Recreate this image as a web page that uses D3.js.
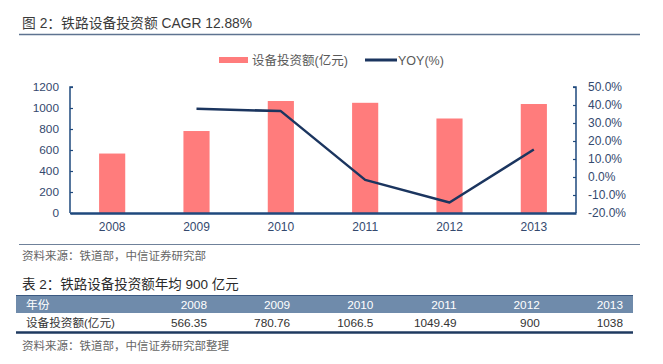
<!DOCTYPE html>
<html><head><meta charset="utf-8">
<script src="https://cdn.jsdelivr.net/npm/d3@7"></script>
<style>
html,body{margin:0;padding:0;background:#fff;}
svg{display:block;font-family:"Liberation Sans",Arial,"Noto Sans CJK SC",sans-serif;}
</style></head>
<body>
<script>
const years = ["2008","2009","2010","2011","2012","2013"];
const investment = [566.35, 780.76, 1066.5, 1049.49, 900, 1038];
const yoyYears = ["2009","2010","2011","2012","2013"];
const yoy = [37.9, 36.6, -1.6, -14.2, 15.3];
const leftTicks = [0,200,400,600,800,1000,1200];
const rightTicks = [-20,-10,0,10,20,30,40,50];
const tableValues = ["566.35","780.76","1066.5","1049.49","900","1038"];

(function(){
const W = 663, H = 364;
const svg = d3.select("body").append("svg").attr("width", W).attr("height", H);
const axisColor = "#1f497d", labelColor = "#34496e";

// Title
svg.append("text").attr("x", 22).attr("y", 28).attr("font-size", 13.8).attr("fill", "#3a3a3a")
  .text("图 2：铁路设备投资额 CAGR 12.88%");
svg.append("line").attr("x1", 19).attr("x2", 640).attr("y1", 34.5).attr("y2", 34.5)
  .attr("stroke", "#5e7390").attr("stroke-width", 1.5);

// Scales
const pL = 70, pR = 576, pT = 87, pB = 213;
const x = d3.scaleBand().domain(years).range([pL, pR]).paddingInner(0.69).paddingOuter(0.345);
const yL = d3.scaleLinear().domain([0, 1200]).range([pB, pT]);
const yR = d3.scaleLinear().domain([-20, 50]).range([pB, pT]);

// Bars
svg.append("g").selectAll("rect").data(investment).join("rect")
  .attr("x", (d, i) => x(years[i])).attr("width", x.bandwidth())
  .attr("y", d => yL(d)).attr("height", d => yL(0) - yL(d)).attr("fill", "#ff7c7c");

// Line
const line = d3.line().x((d, i) => x(yoyYears[i]) + x.bandwidth() / 2).y(d => yR(d));
svg.append("path").datum(yoy).attr("d", line).attr("fill", "none")
  .attr("stroke", "#1b355f").attr("stroke-width", 2.5).attr("stroke-linejoin", "round");

// Left axis
const gL = svg.append("g").attr("transform", `translate(${pL},0)`)
  .call(d3.axisLeft(yL).tickValues(leftTicks).tickSize(-3).tickPadding(11).tickFormat(d3.format("d")));
gL.select(".domain").attr("stroke", axisColor).attr("stroke-width", 1.5).attr("d", `M3,${pT}H0V${pB}`);
gL.selectAll(".tick line").attr("stroke", axisColor).attr("stroke-width", 1.2);
gL.selectAll("text").attr("fill", labelColor).attr("font-size", 11.8).attr("font-family", "Liberation Sans, Arial");

// Right axis
const gR = svg.append("g").attr("transform", `translate(${pR},0)`)
  .call(d3.axisRight(yR).tickValues(rightTicks).tickSize(-3).tickPadding(12).tickFormat(d => d.toFixed(1) + "%"));
gR.select(".domain").attr("stroke", axisColor).attr("stroke-width", 1.5).attr("d", `M-3,${pT}H0V${pB}`);
gR.selectAll(".tick line").attr("stroke", axisColor).attr("stroke-width", 1.2);
gR.selectAll("text").attr("fill", labelColor).attr("font-size", 12).attr("font-family", "Liberation Sans, Arial");

// Bottom axis
const gB = svg.append("g").attr("transform", `translate(0,${pB})`)
  .call(d3.axisBottom(x).tickSize(0).tickPadding(9));
gB.select(".domain").attr("stroke", axisColor).attr("stroke-width", 2.5);
gB.selectAll("text").attr("fill", labelColor).attr("font-size", 12).attr("font-family", "Liberation Sans, Arial");

// Legend
const lg = svg.append("g");
lg.append("rect").attr("x", 219).attr("y", 57).attr("width", 29).attr("height", 6).attr("fill", "#ff7c7c");
lg.append("text").attr("x", 252).attr("y", 64.5).attr("font-size", 12.5).attr("fill", "#595959").text("设备投资额(亿元)");
lg.append("line").attr("x1", 365).attr("x2", 397).attr("y1", 60).attr("y2", 60).attr("stroke", "#1b355f").attr("stroke-width", 3);
lg.append("text").attr("x", 398).attr("y", 64.5).attr("font-size", 12.5).attr("fill", "#595959").text("YOY(%)");

// Separator and source
svg.append("line").attr("x1", 19).attr("x2", 640).attr("y1", 244.5).attr("y2", 244.5)
  .attr("stroke", "#6f819a").attr("stroke-width", 1);
svg.append("text").attr("x", 22).attr("y", 259.5).attr("font-size", 11.5).attr("fill", "#666")
  .attr("font-family", "Noto Sans CJK SC").text("资料来源：铁道部，中信证券研究部");

// Table title
svg.append("text").attr("x", 22).attr("y", 289).attr("font-size", 13.5).attr("fill", "#2a2a2a")
  .text("表 2：铁路设备投资额年均 900 亿元");

// Table
const colRight = d3.scalePoint().domain(years).range([207, 623]);
svg.append("rect").attr("x", 16).attr("y", 295).attr("width", 617).attr("height", 18).attr("fill", "#6f8bab");
svg.append("line").attr("x1", 16).attr("x2", 633).attr("y1", 295.5).attr("y2", 295.5).attr("stroke", "#3c5a82").attr("stroke-width", 1);
svg.append("text").attr("x", 26).attr("y", 308.5).attr("font-size", 11.8).attr("fill", "#fff").text("年份");
svg.append("g").selectAll("text").data(years).join("text")
  .attr("x", d => colRight(d)).attr("y", 308.5).attr("text-anchor", "end")
  .attr("font-size", 11.8).attr("fill", "#fff").text(d => d);
svg.append("text").attr("x", 26).attr("y", 327).attr("font-size", 11.6).attr("fill", "#333").text("设备投资额(亿元)");
svg.append("g").selectAll("text").data(tableValues).join("text")
  .attr("x", (d, i) => colRight(years[i])).attr("y", 327).attr("text-anchor", "end")
  .attr("font-size", 11.8).attr("fill", "#333").text(d => d);
svg.append("line").attr("x1", 16).attr("x2", 633).attr("y1", 332.5).attr("y2", 332.5)
  .attr("stroke", "#1f3a60").attr("stroke-width", 2.5);
svg.append("text").attr("x", 22).attr("y", 350).attr("font-size", 11.5).attr("fill", "#666")
  .attr("font-family", "Noto Sans CJK SC").text("资料来源：铁道部，中信证券研究部整理");
})();
</script>
</body></html>
